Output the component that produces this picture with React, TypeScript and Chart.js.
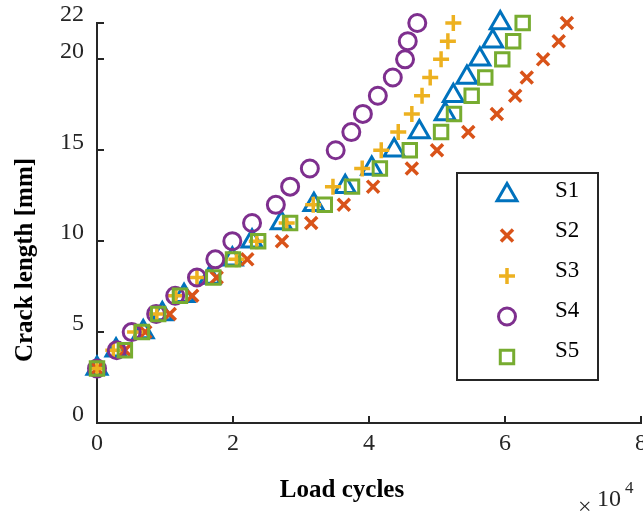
import React, { useEffect, useRef } from "react";
import { Chart, registerables } from "chart.js";
import { drawPoint } from "chart.js/helpers";

Chart.register(...registerables);

// Crack length values (mm), shared by all specimens
const crackLength = [3, 4, 5, 6, 7, 8, 9, 10, 11, 12, 13, 14, 15, 16, 17, 18, 19, 20, 21, 22];

// Load cycles for each specimen
const s1Cycles = [0, 2800, 6800, 9600, 12800, 16600, 19900, 22800, 27100, 31900, 36500, 40400, 43700, 47400, 51200, 52400, 54400, 56300, 58200, 59300];
const s2Cycles = [0, 4100, 7100, 10700, 14000, 17600, 22100, 27200, 31500, 36300, 40600, 46300, 50000, 54600, 58800, 61500, 63200, 65600, 67900, 69100];
const s3Cycles = [0, 2400, 5600, 8800, 11600, 14700, 20500, 23500, 27900, 31800, 34700, 39000, 41800, 44300, 46300, 47800, 49000, 50600, 51600, 52400];
const s4Cycles = [0, 2900, 5100, 8700, 11500, 14700, 17400, 19900, 22800, 26300, 28400, 31300, 35100, 37400, 39100, 41300, 43500, 45300, 45700, 47100];
const s5Cycles = [0, 4100, 6600, 9000, 12200, 17100, 20000, 23700, 28400, 33500, 37500, 41600, 46000, 50600, 52500, 55100, 57100, 59600, 61200, 62600];

const seriesNames = ["S1", "S2", "S3", "S4", "S5"];
const seriesCycles = [s1Cycles, s2Cycles, s3Cycles, s4Cycles, s5Cycles];

const xTicks = [0, 20000, 40000, 60000, 80000];
const yTicks = [0, 5, 10, 15, 20, 22];

const FONT = "'Liberation Serif', 'Times New Roman', Times, serif";
const AXIS = "#262626";

const styles = [
  { pointStyle: "triangle", radius: 11.5, borderWidth: 3, color: "#0072BD" },
  { pointStyle: "crossRot", radius: 8.5, borderWidth: 3.5, color: "#D95319" },
  { pointStyle: "cross", radius: 8, borderWidth: 3.5, color: "#EDB120" },
  { pointStyle: "circle", radius: 8.5, borderWidth: 3, color: "#7E2F8E" },
  { pointStyle: "rect", radius: 9.5, borderWidth: 3, color: "#77AC30" },
];

const decorPlugin = {
  id: "decor",
  beforeDatasetsDraw(chart: any) {
    const { ctx, chartArea, scales } = chart;
    const xs = scales.x;
    const ys = scales.y;
    ctx.save();
    ctx.strokeStyle = AXIS;
    ctx.lineWidth = 2;
    ys.ticks.forEach((t: any) => {
      const py = Math.round(ys.getPixelForValue(t.value));
      ctx.beginPath();
      ctx.moveTo(chartArea.left, py);
      ctx.lineTo(chartArea.left + 7, py);
      ctx.stroke();
    });
    xs.ticks.forEach((t: any) => {
      const px = Math.round(xs.getPixelForValue(t.value));
      ctx.beginPath();
      ctx.moveTo(px, chartArea.bottom);
      ctx.lineTo(px, chartArea.bottom - 7);
      ctx.stroke();
    });
    ctx.restore();
  },
  afterDraw(chart: any) {
    const { ctx } = chart;
    ctx.save();
    ctx.fillStyle = "#000";
    // axis titles
    ctx.font = `bold 25px ${FONT}`;
    ctx.textAlign = "center";
    ctx.textBaseline = "middle";
    ctx.save();
    ctx.translate(26, 260);
    ctx.rotate(-Math.PI / 2);
    ctx.fillText("Crack length [mm]", 0, 0);
    ctx.restore();
    ctx.textBaseline = "alphabetic";
    ctx.fillText("Load cycles", 342, 497);

    // exponent
    ctx.fillStyle = AXIS;
    ctx.textAlign = "left";
    ctx.font = `24px ${FONT}`;
    ctx.fillText("\u00D7", 578, 514);
    ctx.fillText("10", 597, 506);
    ctx.font = `17px ${FONT}`;
    ctx.fillText("4", 625, 493);

    // legend
    const bx = 457, by = 173, bw = 141, bh = 207;
    ctx.fillStyle = "#fff";
    ctx.fillRect(bx, by, bw, bh);
    ctx.strokeStyle = AXIS;
    ctx.lineWidth = 2;
    ctx.strokeRect(bx, by, bw, bh);
    chart.data.datasets.forEach((ds: any, i: number) => {
      const cy = 195 + i * 40.5;
      ctx.save();
      ctx.strokeStyle = ds.borderColor;
      ctx.fillStyle = "rgba(0,0,0,0)";
      ctx.lineWidth = ds.borderWidth;
      drawPoint(ctx, { pointStyle: ds.pointStyle, radius: ds.pointRadius, borderWidth: ds.borderWidth, rotation: 0 }, 507, cy);
      ctx.restore();
      ctx.fillStyle = "#000";
      ctx.font = `23px ${FONT}`;
      ctx.textAlign = "left";
      ctx.textBaseline = "alphabetic";
      ctx.fillText(ds.label, 555, 197 + i * 40);
    });
    ctx.restore();
  },
};

export default function App() {
  const ref = useRef<HTMLCanvasElement | null>(null);
  useEffect(() => {
    document.body.style.margin = "0";
    const canvas = ref.current;
    if (!canvas) return;
    const datasets = seriesNames.map((name, i) => ({
      label: name,
      data: seriesCycles[i].map((c, j) => ({ x: c, y: crackLength[j] })),
      pointStyle: styles[i].pointStyle,
      pointRadius: styles[i].radius,
      pointHoverRadius: styles[i].radius,
      borderWidth: styles[i].borderWidth,
      pointBorderWidth: styles[i].borderWidth,
      borderColor: styles[i].color,
      pointBorderColor: styles[i].color,
      backgroundColor: "rgba(0,0,0,0)",
      pointBackgroundColor: "rgba(0,0,0,0)",
      showLine: false,
      clip: false as any,
      order: seriesNames.length - 1 - i,
    }));
    const chart = new Chart(canvas, {
      type: "scatter",
      data: { datasets: datasets as any },
      plugins: [decorPlugin as any],
      options: {
        animation: false,
        responsive: false,
        events: [],
        layout: { autoPadding: false, padding: { left: 0, right: 2, top: 23, bottom: 0 } },
        plugins: {
          legend: { display: false },
          tooltip: { enabled: false },
        },
        scales: {
          x: {
            type: "linear",
            min: 0,
            max: 80000,
            afterBuildTicks: (s: any) => {
              s.ticks = xTicks.map((v) => ({ value: v }));
            },
            afterFit: (s: any) => {
              s.height = 97;
              s.paddingLeft = 0;
              s.paddingRight = 0;
            },
            ticks: {
              callback: (v: any) => String(Number(v) / 10000),
              font: { family: FONT, size: 24 },
              color: AXIS,
              padding: 6,
              maxRotation: 0,
              autoSkip: false,
            },
            grid: { display: false, drawTicks: false },
            border: { display: true, color: AXIS, width: 2 },
          },
          y: {
            type: "linear",
            min: 0,
            max: 22,
            afterBuildTicks: (s: any) => {
              s.ticks = yTicks.map((v) => ({ value: v }));
            },
            afterFit: (s: any) => {
              s.width = 97;
              s.paddingTop = 0;
              s.paddingBottom = 0;
            },
            ticks: {
              font: { family: FONT, size: 24 },
              color: AXIS,
              padding: 13,
              labelOffset: -8,
              autoSkip: false,
            },
            grid: { display: false, drawTicks: false },
            border: { display: true, color: AXIS, width: 2 },
          },
        },
      },
    });
    return () => chart.destroy();
  }, []);
  return <canvas ref={ref} width={643} height={520} style={{ display: "block" }} />;
}
